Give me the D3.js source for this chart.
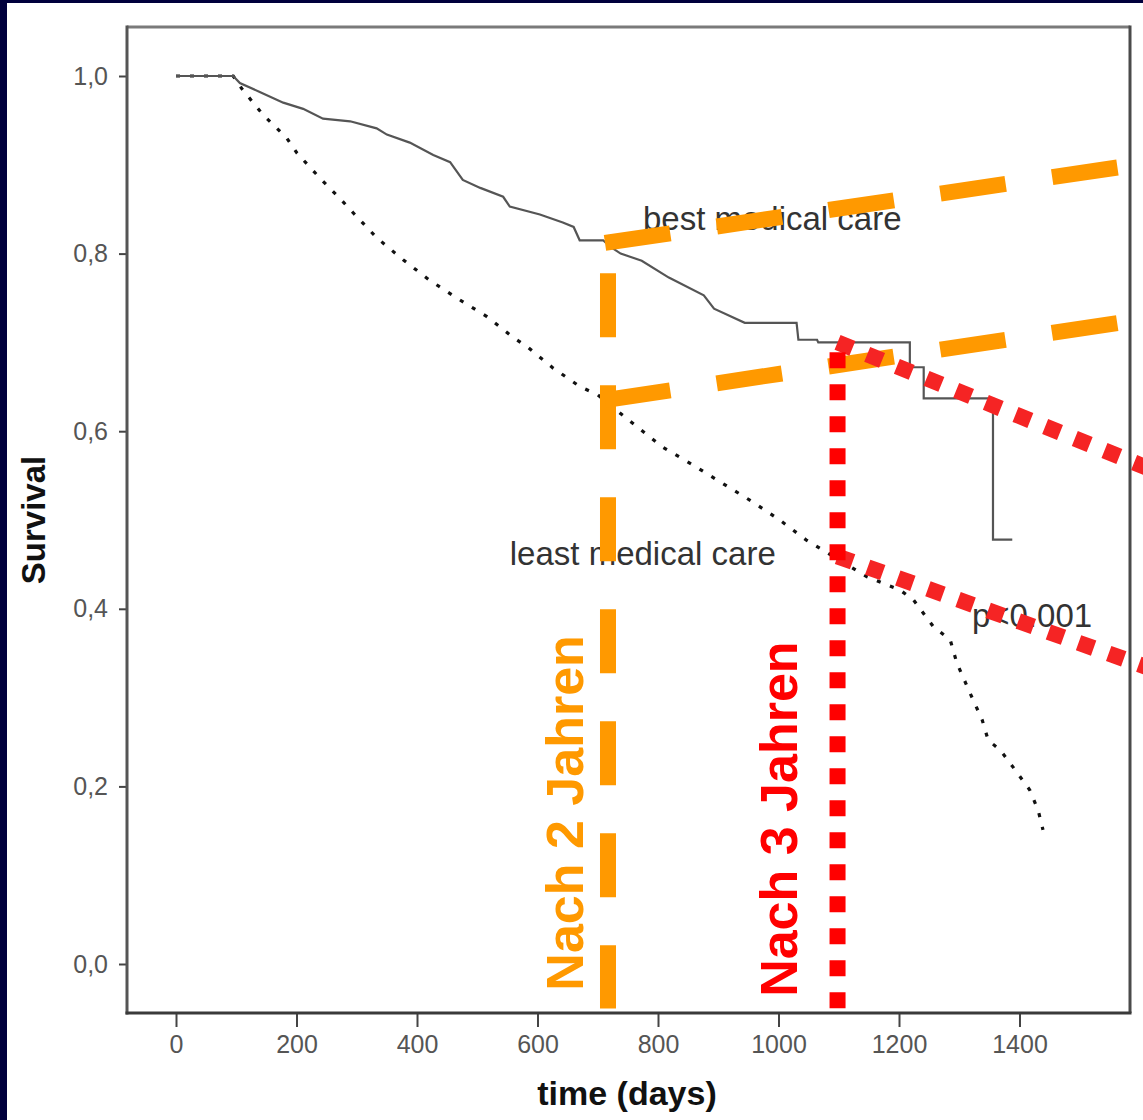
<!DOCTYPE html>
<html>
<head>
<meta charset="utf-8">
<script src="https://cdn.jsdelivr.net/npm/d3@7"></script>
<style>
    body { margin: 0; background: #00003c; }
    svg { display: block; }
    text { font-family: "Liberation Sans", Arial, sans-serif; }
</style>
</head>
<body>
<svg id="chart" width="1143" height="1120"></svg>
<script>
// kaplan-meier curves (days, survival)
const bestCareDays = [0, 95, 106, 139, 178, 211, 244, 289, 333, 350, 388, 427, 455, 476, 505, 543, 554, 604, 642, 660, 670,
    709, 720, 738, 773, 818, 876, 893, 944, 1030, 1033, 1064, 1066, 1218, 1218, 1241, 1241, 1356, 1356, 1388];
const bestCareSurv = [1.0, 1.0, 0.992, 0.982, 0.970, 0.963, 0.952, 0.949, 0.941, 0.934, 0.925, 0.911, 0.903, 0.883, 0.874, 0.864, 0.853, 0.844, 0.835, 0.830, 0.815,
    0.815, 0.808, 0.800, 0.792, 0.773, 0.753, 0.738, 0.722, 0.722, 0.703, 0.703, 0.700, 0.700, 0.672, 0.672, 0.637, 0.637, 0.478, 0.478];

const leastCareDays = [0, 95, 110, 128, 145, 184, 201, 239, 275, 294, 333, 377, 421, 466, 516, 559, 583, 626, 671, 700,
    745, 808, 858, 903, 958, 1002, 1047, 1074, 1147, 1202, 1224, 1257, 1285, 1296, 1318, 1338, 1348, 1368, 1389, 1417, 1431, 1439];
const leastCareSurv = [1.0, 1.0, 0.985, 0.970, 0.956, 0.930, 0.913, 0.885, 0.860, 0.846, 0.818, 0.793, 0.770, 0.750, 0.729, 0.706, 0.695, 0.671, 0.650, 0.641,
    0.616, 0.582, 0.562, 0.543, 0.520, 0.500, 0.477, 0.466, 0.436, 0.421, 0.410, 0.380, 0.365, 0.339, 0.305, 0.275, 0.252, 0.241, 0.222, 0.196, 0.173, 0.151];

const xTicks = [0, 200, 400, 600, 800, 1000, 1200, 1400];
const yTicks = [0, 0.2, 0.4, 0.6, 0.8, 1.0];

const curveLabels = [
    {text: "best medical care", day: 775, surv: 0.827},
    {text: "least medical care", day: 554, surv: 0.449},
    {text: "p<0.001", day: 1321, surv: 0.379}
];

// the hand drawn guides on top (2 years orange, 3 years red)
const twoYearDay = 717;
const twoYearGuide = [[717, 0.778], [717, -0.05]];
const twoYearBest = [[712, 0.812], [1633, 0.904]];
const twoYearLeast = [[712, 0.635], [1633, 0.729]];
const threeYearDay = 1098;
const threeYearGuide = [[1098, 0.689], [1098, -0.05]];
const threeYearBest = [[1098, 0.700], [1633, 0.553]];
const threeYearLeast = [[1098, 0.459], [1633, 0.329]];

const box = {left: 127, right: 1130, top: 27, bottom: 1013};

const svg = d3.select("#chart");

// navy frame only shows on the left and top
svg.append("rect").attr("width", 1143).attr("height", 1120).attr("fill", "#00003c");
svg.append("rect").attr("x", 7).attr("y", 3).attr("width", 1136).attr("height", 1117).attr("fill", "#fff");

const x = d3.scaleLinear().domain([0, 1400]).range([176, 1019.5]);
const y = d3.scaleLinear().domain([0, 1]).range([964, 76]);

const commaLocale = d3.formatLocale({decimal: ",", thousands: ".", grouping: [3], currency: ["", "€"]});
const fmtY = commaLocale.format(".1f");
const fmtX = d3.format("d");

// plot frame
svg.append("line").attr("x1", box.left).attr("x2", box.right).attr("y1", box.top).attr("y2", box.top)
    .attr("stroke", "#7a7a7a").attr("stroke-width", 3);
svg.append("line").attr("x1", box.right).attr("x2", box.right).attr("y1", box.top - 1.5).attr("y2", box.bottom)
    .attr("stroke", "#4a4a4a").attr("stroke-width", 3);

const yAxis = svg.append("g")
    .attr("transform", `translate(${box.left},0)`)
    .call(d3.axisLeft(y).tickValues(yTicks).tickFormat(fmtY).tickSize(8).tickPadding(11));
const xAxis = svg.append("g")
    .attr("transform", `translate(0,${box.bottom})`)
    .call(d3.axisBottom(x).tickValues(xTicks).tickFormat(fmtX).tickSize(14).tickPadding(8));

[yAxis, xAxis].forEach(ax => {
    ax.select(".domain").remove();
    ax.selectAll(".tick line").attr("stroke", "#444").attr("stroke-width", 2);
    ax.selectAll(".tick text").attr("fill", "#555").style("font-size", "25px");
});
svg.append("line").attr("x1", box.left).attr("x2", box.left).attr("y1", box.top - 1.5).attr("y2", box.bottom + 1.5)
    .attr("stroke", "#555").attr("stroke-width", 3);
svg.append("line").attr("x1", box.left - 1.5).attr("x2", box.right + 1.5).attr("y1", box.bottom).attr("y2", box.bottom)
    .attr("stroke", "#3a3a3a").attr("stroke-width", 3);

svg.append("text")
    .attr("transform", "translate(45,520) rotate(-90)")
    .attr("text-anchor", "middle")
    .style("font-size", "33px").style("font-weight", "bold")
    .attr("fill", "#111")
    .text("Survival");

svg.append("text")
    .attr("x", 627).attr("y", 1105)
    .attr("text-anchor", "middle")
    .style("font-size", "34px").style("font-weight", "bold")
    .attr("fill", "#111")
    .text("time (days)");

// curves (dotted one first so the solid flat start sits on top)
const line = d3.line().x(d => x(d[0])).y(d => y(d[1]));
const bestCare = bestCareDays.map((d, i) => [d, bestCareSurv[i]]);
const leastCare = leastCareDays.map((d, i) => [d, leastCareSurv[i]]);

svg.append("path").datum(leastCare)
    .attr("d", line)
    .attr("fill", "none").attr("stroke", "#111").attr("stroke-width", 3.2)
    .attr("stroke-dasharray", "4 10");

svg.append("path").datum(bestCare)
    .attr("d", line)
    .attr("fill", "none").attr("stroke", "#555").attr("stroke-width", 2.2);

svg.selectAll(".curve-label")
    .data(curveLabels)
    .join("text")
    .attr("class", "curve-label")
    .attr("x", d => x(d.day)).attr("y", d => y(d.surv))
    .attr("fill", "#333")
    .style("font-size", "33px")
    .text(d => d.text);

// annotation overlay, drawn over everything and not clipped by the frame
function guide(points, color, dash) {
    svg.append("path").datum(points)
        .attr("d", line)
        .attr("fill", "none")
        .attr("stroke", color)
        .attr("stroke-width", 16)
        .attr("stroke-dasharray", dash);
}

const orange = "#ff9900";
const red = "#ff0000";

guide(twoYearGuide, orange, "64 48");
guide(twoYearBest, orange, "66 47");
guide(twoYearLeast, orange, "66 47");

guide(threeYearBest, "#f52424", "16 16");
guide(threeYearLeast, "#f52424", "16 16");
guide(threeYearGuide, red, "16 16");

svg.append("text")
    .attr("transform", `translate(${x(twoYearDay) - 25},${y(-0.03)}) rotate(-90)`)
    .attr("fill", orange)
    .style("font-size", "52px").style("font-weight", "bold")
    .text("Nach 2 Jahren");

svg.append("text")
    .attr("transform", `translate(${x(threeYearDay) - 41},${y(-0.037)}) rotate(-90)`)
    .attr("fill", red)
    .style("font-size", "52px").style("font-weight", "bold")
    .text("Nach 3 Jahren");
</script>
</body>
</html>
